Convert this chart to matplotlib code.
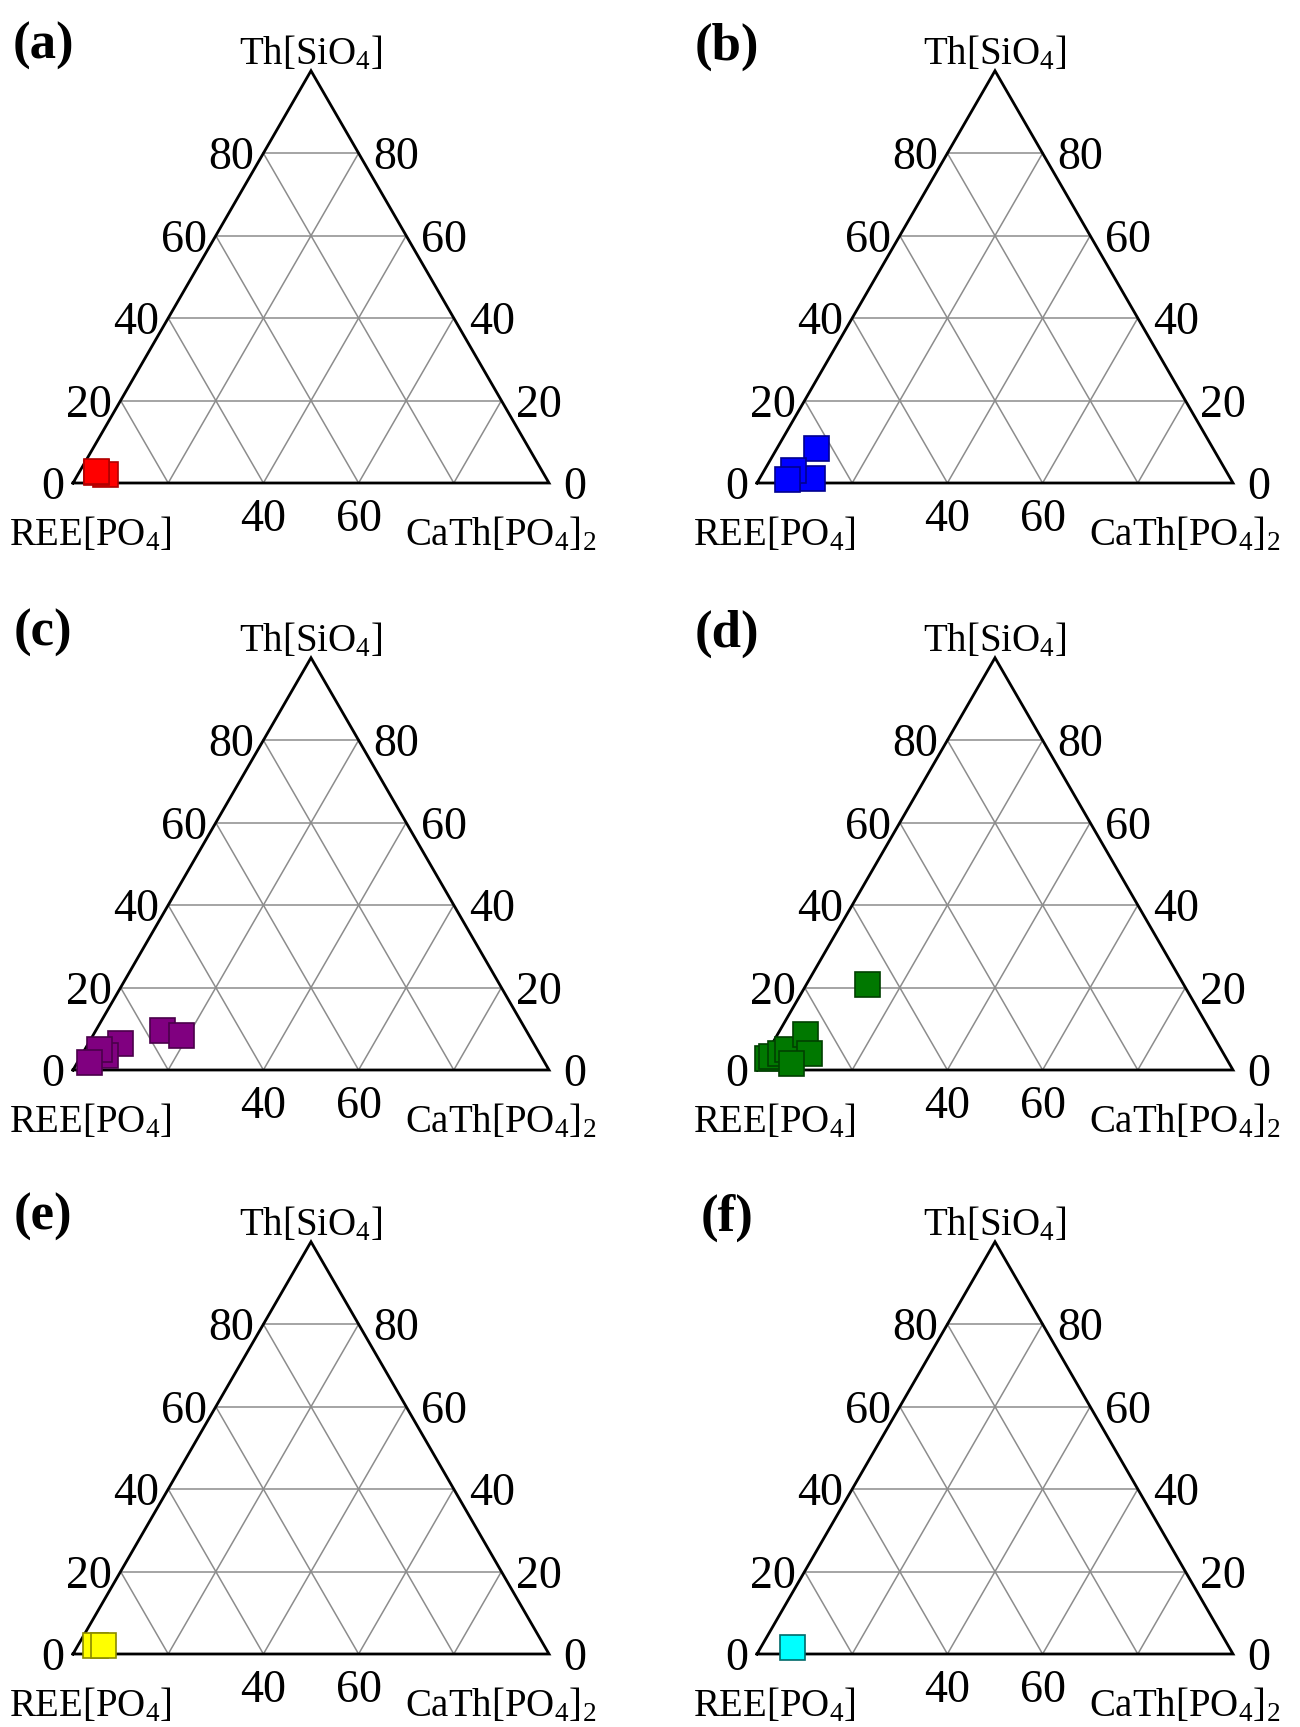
"""Ternary plots Th[SiO4] - REE[PO4] - CaTh[PO4]2, six panels."""

import matplotlib.pyplot as plt
import numpy as np

plt.rcParams['font.family'] = ['Liberation Serif', 'DejaVu Serif']
plt.rcParams['mathtext.fontset'] = 'custom'
plt.rcParams['mathtext.rm'] = 'Liberation Serif'
plt.rcParams['mathtext.it'] = 'Liberation Serif:italic'
plt.rcParams['mathtext.bf'] = 'Liberation Serif:bold'

W, H = 1300, 1727
side = 476.0                 # triangle side in px
h = np.sqrt(3) / 2

# compositions in %: Th[SiO4] and CaTh[PO4]2 (REE[PO4] is the remainder)
th_a = [2.3, 2.6, 3.0]
ca_a = [5.5, 3.6, 3.4]
th_b = [8.5, 1.2, 3.2, 0.9]
ca_b = [8.2, 11.0, 6.0, 5.9]
th_c = [9.8, 8.6, 6.6, 3.6, 5.0, 2.0]
ca_c = [13.7, 18.3, 6.5, 4.9, 3.0, 2.4]
th_d = [20.8, 2.8, 3.4, 4.2, 5.0, 8.7, 4.2, 1.6]
ca_d = [12.8, 0.7, 1.3, 2.7, 3.7, 5.7, 8.9, 6.4]
th_e = [2.1, 2.1]
ca_e = [3.6, 5.2]
th_f = [1.8]
ca_f = [6.5]

panels = [
    ('(a)', th_a, ca_a, '#ff0000', '#b00000'),
    ('(b)', th_b, ca_b, '#0000ff', '#000090'),
    ('(c)', th_c, ca_c, '#800080', '#4a004a'),
    ('(d)', th_d, ca_d, '#007800', '#004000'),
    ('(e)', th_e, ca_e, '#ffff00', '#8a8a00'),
    ('(f)', th_f, ca_f, '#00ffff', '#006a6a'),
]

grid_vals = [0.2, 0.4, 0.6, 0.8]
side_ticks = ['20', '40', '60', '80']
base_ticks = {0.4: '40', 0.6: '60'}

col_left = [73, 757]
row_base = [483, 1070, 1654]

fig = plt.figure(figsize=(W / 100, H / 100), dpi=100)


def px(d):
    return d / side


for i, (letter, th, ca, fc, ec) in enumerate(panels):
    x0 = col_left[i % 2]
    yb = row_base[i // 2]
    ax = fig.add_axes([x0 / W, (H - yb) / H, side / W, side * h / H])
    ax.set_xlim(0, 1)
    ax.set_ylim(0, h)
    ax.set_axis_off()

    # grid
    for g in grid_vals:
        ax.plot([g / 2, 1 - g / 2], [g * h, g * h], color='#8c8c8c', lw=1.1, zorder=1)
        ax.plot([g, g + (1 - g) / 2], [0, (1 - g) * h], color='#8c8c8c', lw=1.1, zorder=1)
        ax.plot([g, g / 2], [0, g * h], color='#8c8c8c', lw=1.1, zorder=1)
    ax.plot([0, 1, 0.5, 0], [0, 0, h, 0], color='k', lw=2.0, zorder=2,
            clip_on=False, solid_joinstyle='miter')

    # tick labels
    for g, lab in zip(grid_vals, side_ticks):
        ax.text(g / 2 - px(9), g * h, lab, fontsize=33, ha='right',
                va='center_baseline')
        ax.text(1 - g / 2 + px(15), g * h, lab, fontsize=33, ha='left',
                va='center_baseline')
    ax.text(-px(9), 0, '0', fontsize=33, ha='right', va='center_baseline')
    ax.text(1 + px(14), 0, '0', fontsize=33, ha='left', va='center_baseline')
    for g, lab in base_ticks.items():
        ax.text(g, -px(32), lab, fontsize=33, ha='center', va='center_baseline')

    # apex labels
    ax.text(0.5, h + px(21), r'Th[SiO$_\mathrm{4}$]', fontsize=28,
            ha='center', va='center_baseline')
    ax.text(px(17), -px(47), r'REE[PO$_\mathrm{4}$]', fontsize=28,
            ha='center', va='center_baseline')
    ax.text(1 - px(48), -px(47), r'CaTh[PO$_\mathrm{4}$]$_\mathrm{2}$',
            fontsize=28, ha='center', va='center_baseline')

    # panel letter
    ax.text(-px(30), h + px(30), letter, fontsize=38, fontweight='bold',
            ha='center', va='center_baseline')

    # data
    th = np.array(th) / 100
    ca = np.array(ca) / 100
    xs = ca + th / 2
    ys = th * h
    ax.plot(xs, ys, 's', ms=18, mfc=fc, mec=ec, mew=1.2, ls='none',
            zorder=3, clip_on=False)

plt.savefig('out.png', dpi=100)
